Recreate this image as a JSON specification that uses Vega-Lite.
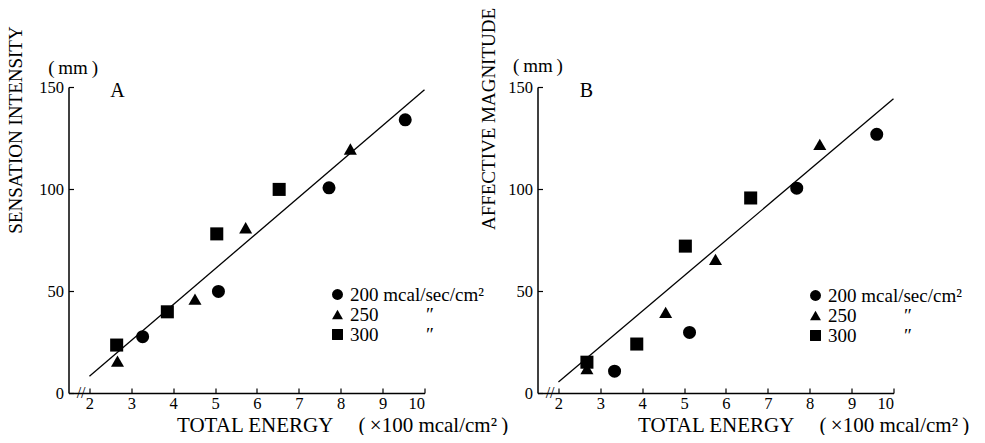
{
  "$schema": "https://vega.github.io/schema/vega-lite/v6.json",
  "background": "white",
  "autosize": {"type": "pad"},
  "padding": {"left": 5.5, "top": 7, "right": 0, "bottom": 0},
  "bounds": "flush",
  "spacing": 113,
  "config": {
    "view": {"stroke": null},
    "font": "Liberation Serif",
    "axis": {
      "domainColor": "black", "domainWidth": 1.5, "tickColor": "black", "tickWidth": 1.2,
      "grid": false, "labelColor": "black", "labelFontSize": 16.5, "labelFont": "Liberation Serif",
      "titleFont": "Liberation Serif", "titleFontWeight": "normal", "titleColor": "black",
      "tickSize": -5
    },
    "legend": {
      "orient": "none", "title": null, "padding": 0, "rowPadding": 0,
      "labelFontSize": 19, "labelFont": "Liberation Serif", "labelColor": "black", "labelLimit": 300,
      "symbolSize": 120, "symbolFillColor": "black", "symbolStrokeColor": "black", "symbolStrokeWidth": 0,
      "symbolOpacity": 1, "labelOffset": 3
    }
  },
  "datasets": {
    "A": [
      {"energy": 3.27, "value": 27.6, "rate": "200"},
      {"energy": 5.08, "value": 49.8, "rate": "200"},
      {"energy": 7.72, "value": 100.6, "rate": "200"},
      {"energy": 9.54, "value": 133.9, "rate": "200"},
      {"energy": 2.67, "value": 15.6, "rate": "250"},
      {"energy": 4.52, "value": 46, "rate": "250"},
      {"energy": 5.73, "value": 81, "rate": "250"},
      {"energy": 8.23, "value": 119.6, "rate": "250"},
      {"energy": 2.65, "value": 23.5, "rate": "300"},
      {"energy": 3.86, "value": 39.8, "rate": "300"},
      {"energy": 5.04, "value": 78, "rate": "300"},
      {"energy": 6.53, "value": 99.8, "rate": "300"}
    ],
    "B": [
      {"energy": 3.34, "value": 10.7, "rate": "200"},
      {"energy": 5.13, "value": 29.7, "rate": "200"},
      {"energy": 7.69, "value": 100.4, "rate": "200"},
      {"energy": 9.6, "value": 126.8, "rate": "200"},
      {"energy": 2.68, "value": 11.9, "rate": "250"},
      {"energy": 4.56, "value": 39.5, "rate": "250"},
      {"energy": 5.75, "value": 65.5, "rate": "250"},
      {"energy": 8.24, "value": 121.9, "rate": "250"},
      {"energy": 2.68, "value": 15.1, "rate": "300"},
      {"energy": 3.87, "value": 24, "rate": "300"},
      {"energy": 5.03, "value": 72, "rate": "300"},
      {"energy": 6.59, "value": 95.6, "rate": "300"}
    ],
    "fitA": [{"energy": 2, "value": 8.2}, {"energy": 10, "value": 148.6}],
    "fitB": [{"energy": 2, "value": 5.4}, {"energy": 10, "value": 144.2}]
  },
  "hconcat": [
    {
      "width": 356, "height": 306,
      "layer": [
        {
          "data": {"name": "fitA"},
          "mark": {"type": "line", "color": "black", "strokeWidth": 1.3},
          "encoding": {
            "x": {"field": "energy", "type": "quantitative", "scale": {"domain": [1.5, 10], "nice": false, "zero": false},
              "axis": {"values": [2, 3, 4, 5, 6, 7, 8, 9, 10], "format": "d", "labelPadding": 7,
                "labelFont": "Liberation Serif", "titleFont": "Liberation Serif",
                "title": "TOTAL ENERGY\u2003\u2009(\u2009×100 mcal/cm²\u2009)", "titleFontSize": 21,
                "titleAlign": "left", "titleAnchor": "start", "titleX": 108, "titleY": 38, "titleBaseline": "alphabetic"}},
            "y": {"field": "value", "type": "quantitative", "scale": {"domain": [0, 150], "nice": false},
              "axis": {"values": [0, 50, 100, 150], "format": "d", "labelPadding": 10, "title": "SENSATION INTENSITY", "titleFontSize": 19,
                "labelFont": "Liberation Serif", "titleFont": "Liberation Serif",
                "titleX": -53, "titleY": 42.5, "titleAngle": 270, "titleBaseline": "middle", "titleAlign": "center"}}
          }
        },
        {
          "data": {"name": "A"},
          "mark": {"type": "point", "filled": true, "size": 170, "opacity": 1, "color": "black"},
          "encoding": {
            "x": {"field": "energy", "type": "quantitative"},
            "y": {"field": "value", "type": "quantitative"},
            "shape": {"field": "rate", "type": "nominal",
              "scale": {"domain": ["200", "250", "300"], "range": ["circle", "triangle-up", "square"]},
              "legend": {"legendX": 259.5, "legendY": 198, "labelFont": "Liberation Serif",
                "labelExpr": "datum.value == '200' ? '200 mcal/sec/cm²' : datum.value + '\u2003\u2003\u2002″'"}}
          }
        },
        {
          "data": {"values": [{}]},
          "mark": {"type": "text", "fontSize": 20, "font": "Liberation Serif", "color": "black", "baseline": "middle"},
          "encoding": {"x": {"datum": 2.67, "type": "quantitative"}, "y": {"datum": 147.8, "type": "quantitative"}, "text": {"value": "A"}}
        },
        {
          "data": {"values": [{}]},
          "mark": {"type": "text", "fontSize": 19, "font": "Liberation Serif", "color": "black", "baseline": "middle"},
          "encoding": {"x": {"datum": 1.61, "type": "quantitative"}, "y": {"datum": 159.3, "type": "quantitative"}, "text": {"value": "(\u2009mm\u2009)"}}
        },
        {
          "data": {"values": [{}]},
          "mark": {"type": "text", "fontSize": 16, "font": "Liberation Serif", "color": "black", "baseline": "middle"},
          "encoding": {"x": {"datum": 1.8, "type": "quantitative"}, "y": {"datum": 0, "type": "quantitative"}, "text": {"value": "//"}}
        }
      ]
    },
    {
      "width": 356, "height": 306,
      "layer": [
        {
          "data": {"name": "fitB"},
          "mark": {"type": "line", "color": "black", "strokeWidth": 1.3},
          "encoding": {
            "x": {"field": "energy", "type": "quantitative", "scale": {"domain": [1.5, 10], "nice": false, "zero": false},
              "axis": {"values": [2, 3, 4, 5, 6, 7, 8, 9, 10], "format": "d", "labelPadding": 7,
                "labelFont": "Liberation Serif", "titleFont": "Liberation Serif",
                "title": "TOTAL ENERGY\u2003\u2009(\u2009×100 mcal/cm²\u2009)", "titleFontSize": 21,
                "titleAlign": "left", "titleAnchor": "start", "titleX": 100, "titleY": 38, "titleBaseline": "alphabetic"}},
            "y": {"field": "value", "type": "quantitative", "scale": {"domain": [0, 150], "nice": false},
              "axis": {"values": [0, 50, 100, 150], "format": "d", "labelPadding": 10, "title": "AFFECTIVE MAGNITUDE", "titleFontSize": 19,
                "labelFont": "Liberation Serif", "titleFont": "Liberation Serif",
                "titleX": -49, "titleY": 31.5, "titleAngle": 270, "titleBaseline": "middle", "titleAlign": "center"}}
          }
        },
        {
          "data": {"name": "B"},
          "mark": {"type": "point", "filled": true, "size": 170, "opacity": 1, "color": "black"},
          "encoding": {
            "x": {"field": "energy", "type": "quantitative"},
            "y": {"field": "value", "type": "quantitative"},
            "shape": {"field": "rate", "type": "nominal",
              "scale": {"domain": ["200", "250", "300"], "range": ["circle", "triangle-up", "square"]},
              "legend": {"legendX": 268.5, "legendY": 199, "labelFont": "Liberation Serif",
                "labelExpr": "datum.value == '200' ? '200 mcal/sec/cm²' : datum.value + '\u2003\u2003\u2002″'"}}
          }
        },
        {
          "data": {"values": [{}]},
          "mark": {"type": "text", "fontSize": 20, "font": "Liberation Serif", "color": "black", "baseline": "middle"},
          "encoding": {"x": {"datum": 2.67, "type": "quantitative"}, "y": {"datum": 147.8, "type": "quantitative"}, "text": {"value": "B"}}
        },
        {
          "data": {"values": [{}]},
          "mark": {"type": "text", "fontSize": 19, "font": "Liberation Serif", "color": "black", "baseline": "middle"},
          "encoding": {"x": {"datum": 1.51, "type": "quantitative"}, "y": {"datum": 160.5, "type": "quantitative"}, "text": {"value": "(\u2009mm\u2009)"}}
        },
        {
          "data": {"values": [{}]},
          "mark": {"type": "text", "fontSize": 16, "font": "Liberation Serif", "color": "black", "baseline": "middle"},
          "encoding": {"x": {"datum": 1.8, "type": "quantitative"}, "y": {"datum": 0, "type": "quantitative"}, "text": {"value": "//"}}
        }
      ]
    }
  ],
  "resolve": {"scale": {"shape": "independent"}, "legend": {"shape": "independent"}}
}
